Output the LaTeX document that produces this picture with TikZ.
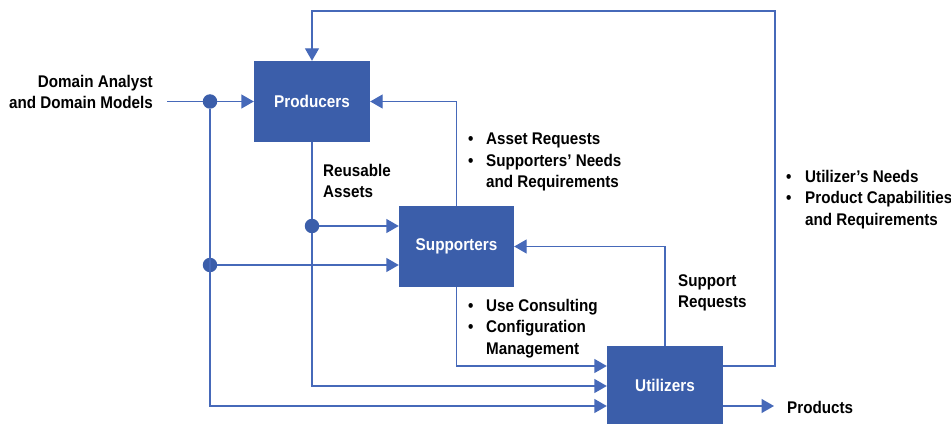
\documentclass[tikz,border=0pt]{standalone}
\usepackage{fontspec}
\setmainfont[FakeStretch=0.9]{Liberation Sans}
\usetikzlibrary{arrows.meta}
\definecolor{boxblue}{RGB}{59,94,170}
\definecolor{lineblue}{RGB}{70,105,185}
\begin{document}
\begin{tikzpicture}[x=1pt,y=-1pt,
  box/.style={draw=none,fill=boxblue,text=white,minimum width=116pt,inner sep=0pt,
    font=\fontsize{17}{20}\selectfont\bfseries},
  dot/.style={circle,fill=boxblue,minimum size=14.5pt,inner sep=0pt},
  conn/.style={draw=lineblue,line width=1.4pt},
  arr/.style={conn,-{Triangle[length=12.5pt,width=14pt]}, shorten >=0pt},
  lbl/.style={inner sep=0pt,align=left,font=\fontsize{16.9}{21.5}\selectfont\bfseries}]
\useasboundingbox (0,0) rectangle (951,425);
% boxes
\node[box,minimum height=81pt] (prod) at (312,101.5) {Producers};
\node[box,minimum height=81pt,minimum width=115pt] (sup) at (456.5,246.5) {Supporters};
\node[box,minimum height=78pt] (util) at (665,385) {Utilizers};
% dots
\node[dot] (d1) at (210,101.5) {};
\node[dot] (d2) at (210,265) {};
\node[dot] (d3) at (312,226) {};
% free ends
\coordinate (in) at (167,101.5);
\coordinate (out) at (774,406);
\coordinate (cornerA) at (775,11);
% connectors
\draw[conn] (in) -- (d1);
\draw[arr] (d1) -- (prod.west);
\draw[arr] (d1) |- (util.west |- 0,406);
\draw[arr] (d2) -- (sup.west |- d2);
\draw[conn] (prod.south) -- (d3);
\draw[arr] (d3) -- (sup.west |- d3);
\draw[arr] (d3) |- (util.west |- 0,386);
\draw[arr] (sup.south) |- (util.west |- 0,366);
\draw[arr] (sup.north) |- (prod.east);
\draw[arr] (util.north) |- (sup.east);
\draw[arr] (util.east |- 0,366) -| (cornerA) -| (prod.north);
\draw[arr] (util.east |- 0,406) -- (out);
% labels
\node[lbl,anchor=north east,align=right] (tDomain) at (153,75) {Domain Analyst\\and Domain Models};
\node[lbl,anchor=north west] (tReuse) at (323,164) {Reusable\\Assets};
\node[lbl,anchor=north west] (tAsset) at (468,133)
  {\makebox[18pt][l]{\textbullet}Asset Requests\\\makebox[18pt][l]{\textbullet}Supporters' Needs\\\hspace*{18pt}and Requirements};
\node[lbl,anchor=north west] (tUse) at (468,299)
  {\makebox[18pt][l]{\textbullet}Use Consulting\\\makebox[18pt][l]{\textbullet}Configuration\\\hspace*{18pt}Management};
\node[lbl,anchor=north west] (tSupReq) at (678,274) {Support\\Requests};
\node[lbl,anchor=north west] (tUtil) at (786,170)
  {\makebox[19pt][l]{\textbullet}Utilizer's Needs\\\makebox[19pt][l]{\textbullet}Product Capabilities\\\hspace*{19pt}and Requirements};
\node[lbl,anchor=west] (tProd) at (787,407.5) {Products};
\end{tikzpicture}
\end{document}
